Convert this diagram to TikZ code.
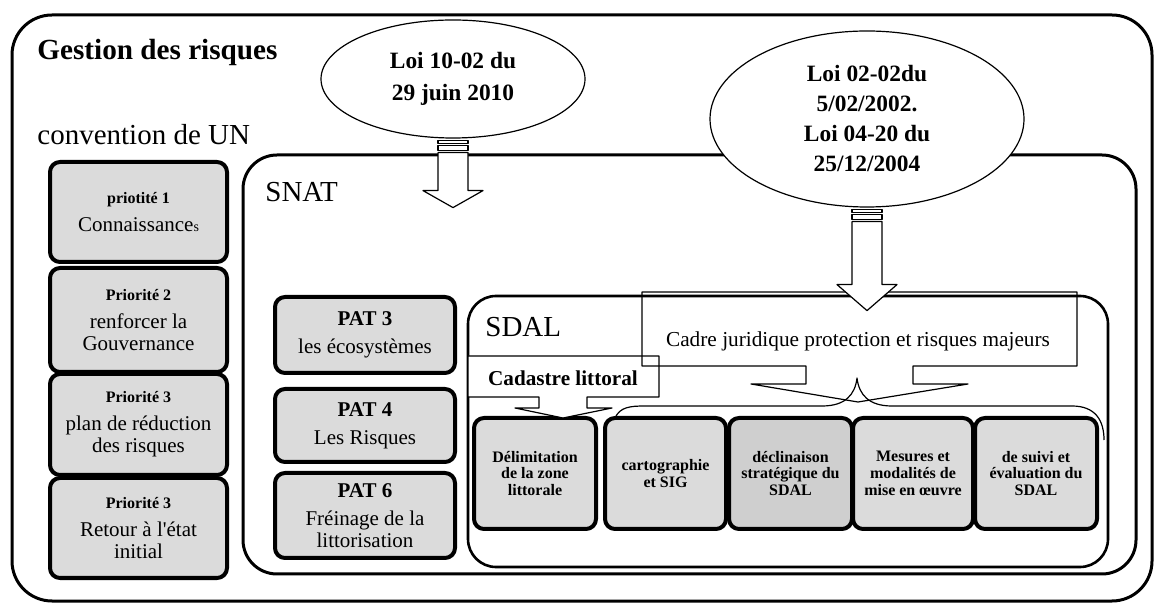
\documentclass[tikz,border=0pt]{standalone}
\usepackage{fontspec}
\setmainfont{Liberation Serif}
\newfontfamily\rawserif{Liberation Serif}[Ligatures=TeXOff]
\usetikzlibrary{shapes.geometric}

\begin{document}
\begin{tikzpicture}[x=0.5pt, y=-0.5pt, line join=round]

% ---------------- styles ----------------
\tikzset{
  frame/.style     ={draw, line width=1.5pt},
  greybox/.style   ={draw, line width=2pt, rounded corners=5pt, fill=gray!28,
                     align=center, inner sep=0pt},
  prio/.style      ={greybox, minimum width=88.5pt, font=\fontsize{10.5}{11}\selectfont},
  patbox/.style    ={greybox, minimum width=90pt, font=\fontsize{10.5}{11}\selectfont},
  sdalbox/.style   ={greybox, minimum width=60pt, minimum height=55.5pt,
                     font=\fontsize{8}{8.4}\selectfont\bfseries},
  loi/.style       ={draw, ellipse, line width=0.6pt, fill=white, inner sep=0pt,
                     align=center},
  fineline/.style  ={draw, line width=0.6pt},
  blockarrow/.style={draw, line width=0.6pt, fill=white},
  heading/.style   ={anchor=base west, inner sep=0pt, font=\fontsize{14.5}{16}\selectfont}
}

% helper: small bold title line inside a box
\newcommand{\Ttl}[1]{{\fontsize{8}{9}\selectfont\bfseries #1}}

% helper: striped block arrow below a node (#1 node, #2 shaft, #3 head)
\newcommand{\BlockArrow}[3]{%
  \path[blockarrow] ([shift={(-15,2)}]#1.south) rectangle ++(30,3);
  \path[blockarrow] ([shift={(-15,7)}]#1.south) rectangle ++(30,5);
  \path[blockarrow] ([shift={(-15,14)}]#1.south) -- ++(0,#2) -- ++(-15,0)
    -- ++(30,#3) -- ++(30,-#3) -- ++(-15,0) -- ++(0,-#2) -- cycle;
}

\useasboundingbox (0,0) rectangle (1156,608);

% ---------------- frames ----------------
\draw[frame, rounded corners=20pt] (12,15) rectangle (1152,601);
\draw[frame, rounded corners=17pt] (243,155) rectangle (1136,574);
\draw[frame, line width=1.3pt, rounded corners=14pt] (468,296) rectangle (1108,567);

% ---------------- convention de UN ----------------
\node[prio, minimum height=50pt]   (prioA) at (138.5,212)   {\Ttl{priotité 1}\\[3pt]Connaissance{\fontsize{7}{8}\selectfont s}};
\node[prio, minimum height=52pt]   (prioB) at (138.5,320)   {\Ttl{Priorité 2}\\[3pt]renforcer la\\Gouvernance};
\node[prio, minimum height=50.5pt] (prioC) at (138.5,424.5) {\Ttl{Priorité 3}\\[3pt]plan de réduction\\des risques};
\node[prio, minimum height=50pt]   (prioD) at (138.5,528)   {\Ttl{Priorité 3}\\[3pt]Retour à l{\rawserif '}état\\initial};

% ---------------- SNAT ----------------
\node[patbox, minimum height=38pt]   (patA) at (365,335)   {\textbf{PAT 3}\\[3pt]les écosystèmes};
\node[patbox, minimum height=36.5pt] (patB) at (365,425.5) {\textbf{PAT 4}\\[3pt]Les Risques};
\node[patbox, minimum height=42.5pt] (patC) at (365,515.5) {\textbf{PAT 6}\\[3pt]Fréinage de la\\littorisation};

% ---------------- SDAL ----------------
\node[sdalbox, minimum width=61pt]   (delim) at (535,473.5)   {Délimitation\\de la zone\\littorale};
\node[sdalbox, minimum width=60.5pt] (carto) at (665.5,473.5) {cartographie\\et SIG};
\node[sdalbox, minimum width=61.5pt, fill=gray!38] (declin) at (790.5,473.5) {déclinaison\\stratégique du\\SDAL};
\node[sdalbox, minimum width=60pt]   (mesur) at (913,473.5)   {Mesures et\\modalités de\\mise en œuvre};
\node[sdalbox, minimum width=61pt]   (suivi) at (1036,473.5)  {de suivi et\\évaluation du\\SDAL};

% callouts
\path[fineline, fill=white] (468,356) -- (659,356) -- (659,397) -- (587,397) -- (587,408)
  -- (612,408) -- (563,418) -- (515,408) -- (539,408) -- (539,397) -- (468,397) -- cycle;
\path[fineline] (642,292) -- (1077,292) -- (1077,366) -- (913,366) -- (913,384)
  -- (968,384) -- (858,402) -- (751,384) -- (806,384) -- (806,366) -- (642,366) -- cycle;

% brace over the boxes
\draw[fineline] (615,418) .. controls (620,407) and (630,406) .. (645,406) -- (822,406)
  .. controls (845,406) and (855,395) .. (857,378)
  .. controls (859,395) and (869,406) .. (892,406) -- (1072,406)
  .. controls (1095,406) and (1104,420) .. (1104,440);

% ---------------- labels ----------------
\node[heading, font=\fontsize{14.6}{16}\selectfont\bfseries] (title) at (37,60) {Gestion des risques};
\node[heading] (convUN)  at (37,145)  {convention de UN};
\node[heading] (snatLbl) at (265,202) {SNAT};
\node[heading] (sdalLbl) at (485,337) {SDAL};
\node[anchor=base, inner sep=0pt, font=\fontsize{10.65}{12}\selectfont] (cadreLbl)
  at (858,347) {Cadre juridique protection et risques majeurs};
\node[anchor=base, inner sep=0pt, font=\fontsize{10.6}{12}\selectfont\bfseries] (cadastreLbl)
  at (563,386) {Cadastre littoral};

% ---------------- lois ----------------
\node[loi, minimum width=132pt, minimum height=59pt, font=\fontsize{11.7}{16}\selectfont\bfseries]
  (loiA) at (453,79) {Loi 10-02 du\\29 juin 2010};
\node[loi, minimum width=157pt, minimum height=88pt, font=\fontsize{11.7}{15}\selectfont\bfseries]
  (loiB) at (867,119) {Loi 02-02du\\5/02/2002.\\Loi 04-20 du\\25/12/2004};

\BlockArrow{loiA}{38}{17}
\BlockArrow{loiB}{63}{26}

\end{tikzpicture}
\end{document}
